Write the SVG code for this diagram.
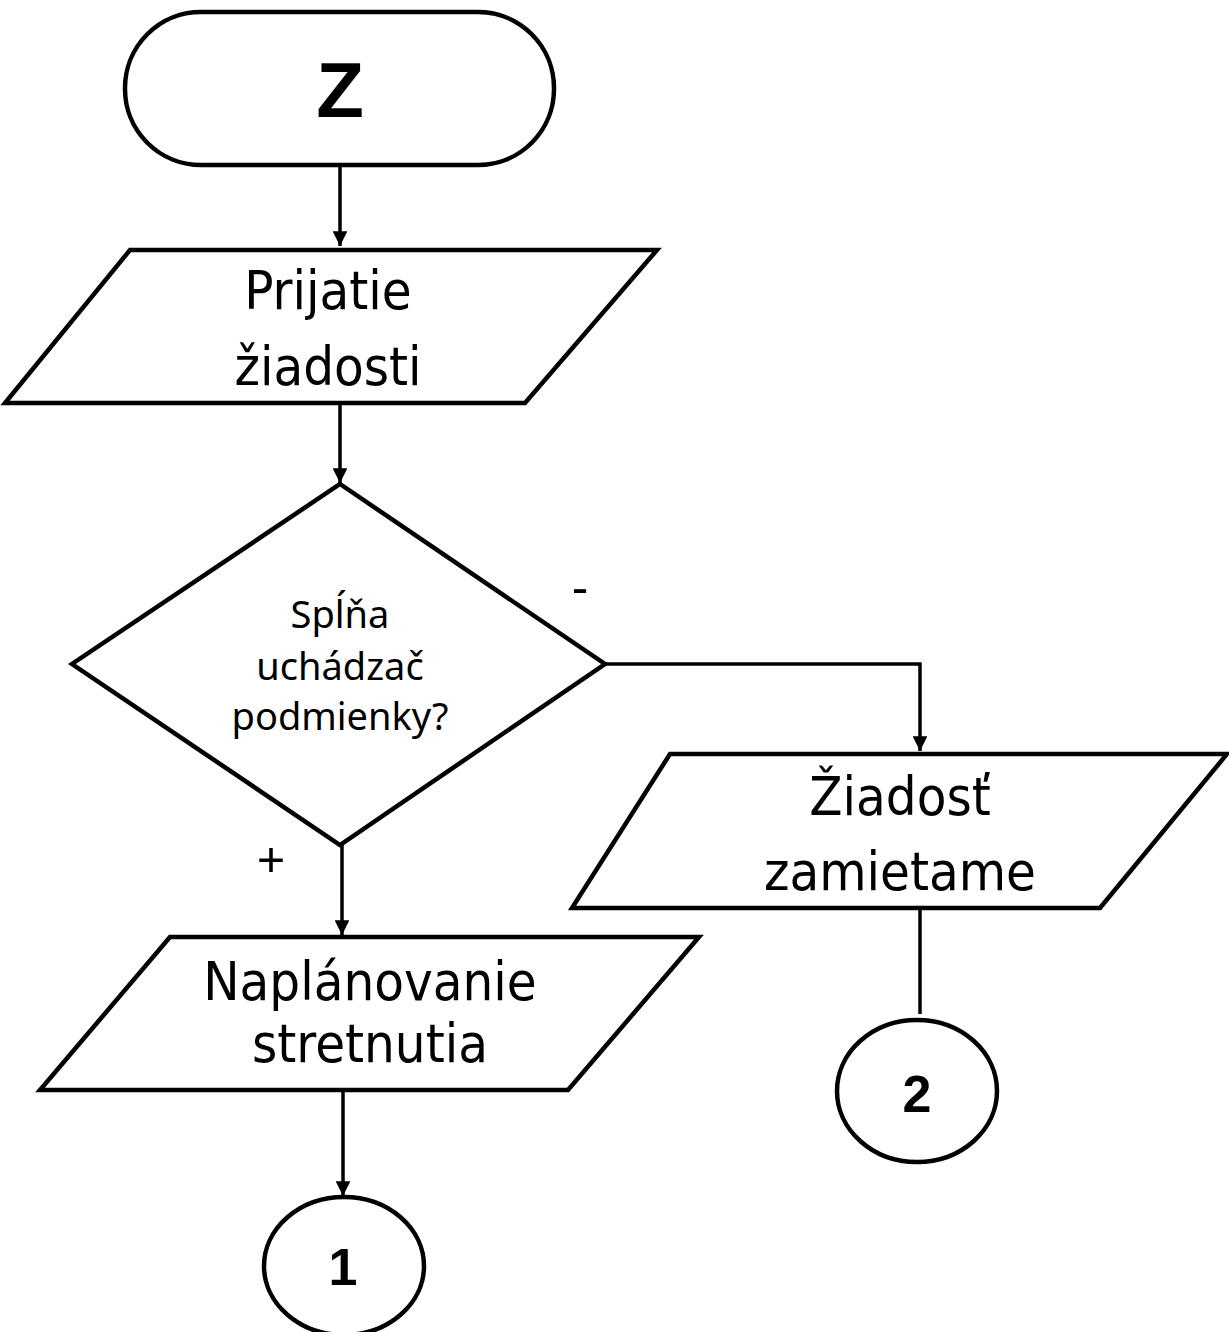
<svg xmlns="http://www.w3.org/2000/svg" width="1229" height="1332" viewBox="0 0 1229 1332">
  <style>
    .shape { fill: #ffffff; stroke: #000000; stroke-width: 4.5; stroke-linejoin: miter; }
    .edge { fill: none; stroke: #000000; stroke-width: 3.5; }
    .big { font-family: "DejaVu Sans Condensed", "Liberation Sans", sans-serif; font-size: 54px; fill: #000; text-anchor: middle; }
    .mid { font-family: "Noto Sans", "Liberation Sans", sans-serif; font-size: 38px; fill: #000; text-anchor: middle; }
    .bold { font-family: "Liberation Sans", Arial, sans-serif; font-weight: bold; fill: #000; text-anchor: middle; }
    .lbl { font-family: "Noto Sans", "Liberation Sans", sans-serif; font-size: 50px; fill: #000; text-anchor: middle; }
  </style>
  <defs>
    <marker id="arrow" viewBox="0 0 10 10" refX="10" refY="5" markerWidth="4.5" markerHeight="4.2" markerUnits="strokeWidth" orient="auto">
      <path d="M0,0 L10,5 L0,10 Z" fill="#000"/>
    </marker>
  </defs>
  <rect width="1229" height="1332" fill="#ffffff"/>

  <!-- connectors -->
  <g id="connectors">
    <line class="edge" x1="340" y1="165" x2="340" y2="246" marker-end="url(#arrow)"/>
    <line class="edge" x1="340" y1="403" x2="340" y2="483" marker-end="url(#arrow)"/>
    <polyline class="edge" points="605,664 920,664 920,751" marker-end="url(#arrow)"/>
    <line class="edge" x1="342" y1="845" x2="342" y2="935" marker-end="url(#arrow)"/>
    <line class="edge" x1="343" y1="1090" x2="343" y2="1196" marker-end="url(#arrow)"/>
    <line class="edge" x1="920" y1="908" x2="920" y2="1014"/>
    <text class="lbl" x="580" y="604">-</text>
    <text class="lbl" x="271" y="877">+</text>
  </g>

  <!-- start terminator -->
  <g id="start">
    <rect class="shape" x="125" y="12" width="429" height="153" rx="76" ry="76"/>
    <text class="bold" x="340" y="117" font-size="78">Z</text>
  </g>

  <!-- input: receiving the application -->
  <g id="prijatie">
    <polygon class="shape" points="130,250 657,250 525,403 5,403"/>
    <text class="big" x="328" y="309">Prijatie</text>
    <text class="big" x="328" y="385">žiadosti</text>
  </g>

  <!-- decision -->
  <g id="decision">
    <polygon class="shape" points="340,484 605,664 340,845 72,664"/>
    <text class="mid" x="340" y="628">Spĺňa</text>
    <text class="mid" x="340" y="680">uchádzač</text>
    <text class="mid" x="340" y="730">podmienky?</text>
  </g>

  <!-- rejected branch -->
  <g id="zamietame">
    <polygon class="shape" points="670,754 1227,754 1100,908 572,908"/>
    <text class="big" x="900" y="815">Žiadosť</text>
    <text class="big" x="900" y="890">zamietame</text>
  </g>

  <!-- accepted branch -->
  <g id="naplanovanie">
    <polygon class="shape" points="170,937 699,937 568,1090 40,1090"/>
    <text class="big" x="370" y="1000">Naplánovanie</text>
    <text class="big" x="370" y="1062">stretnutia</text>
  </g>

  <!-- off-page connectors -->
  <g id="conn1">
    <ellipse class="shape" cx="344" cy="1266" rx="80" ry="69"/>
    <text class="bold" x="343" y="1285" font-size="52">1</text>
  </g>
  <g id="conn2">
    <ellipse class="shape" cx="917" cy="1091" rx="80" ry="71"/>
    <text class="bold" x="917" y="1112" font-size="52">2</text>
  </g>
</svg>
